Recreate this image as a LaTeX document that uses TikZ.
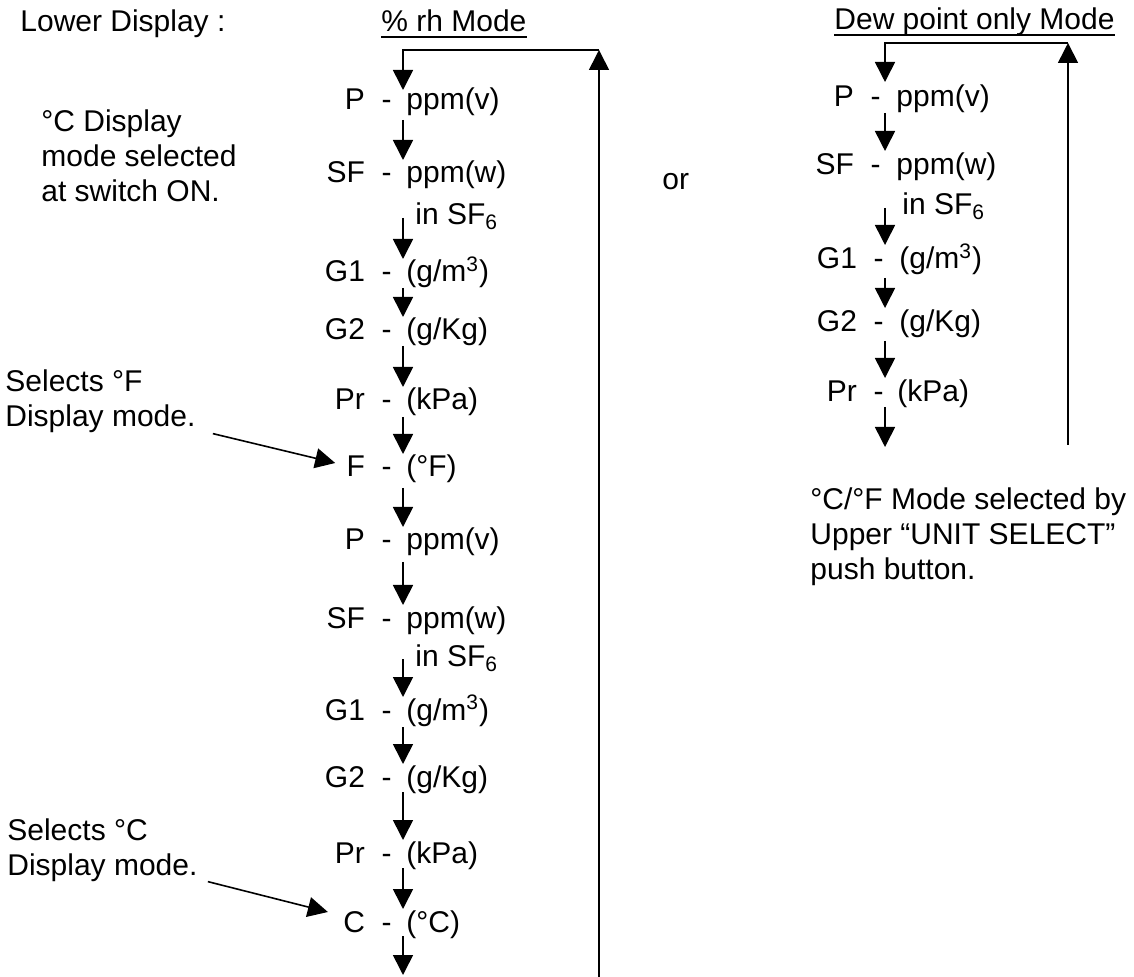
\documentclass[tikz,border=0pt]{standalone}
\usepackage{fontspec}
\setmainfont{Liberation Sans}
\usetikzlibrary{arrows.meta,calc}
\tikzset{>={Triangle[length=10pt,width=10pt]}}
\tikzset{
  lbl/.style={inner sep=0pt, anchor=base west},
  code/.style={inner sep=0pt, anchor=base east},
  note/.style={inner sep=0pt, anchor=base west, align=left},
  flow/.style={->, line width=0.8pt},
}

\begin{document}
\begin{tikzpicture}[x=0.5pt, y=-0.5pt, font=\fontsize{15}{17.5}\selectfont]
  \useasboundingbox (0,0) rectangle (1134,977);

  % headings
  \node[lbl] (lower) at (20,32) {Lower Display :};
  \node[lbl] (rhmode) at (381,32) {\% rh Mode};
  \node[lbl] (dewmode) at (834,30) {Dew point only Mode};
  \draw[line width=1pt] ($(rhmode.base west)+(0,5)$) -- ($(rhmode.base east)+(0,5)$);
  \draw[line width=1pt] ($(dewmode.base west)+(0,5)$) -- ($(dewmode.base east)+(0,5)$);
  \node[lbl] (or) at (662,190) {or};

  % notes (base = last line)
  \node[note] (atswitch) at (41,202) {°C Display\\mode selected\\at switch ON.};
  \node[note] (selF) at (5,427) {Selects °F\\Display mode.};
  \node[note] (selC) at (7,875) {Selects °C\\Display mode.};
  \node[note] (unitsel) at (810,580) {°C/°F Mode selected by\\Upper “UNIT SELECT”\\push button.};

  % % rh column
  \coordinate (lcol) at (403,0);
  \node[code] (lP1)  at (392,110) {P\ \ -};   \node[lbl] at (406,110) {ppm(v)};
  \node[code] (lSF1) at (392,183) {SF\ \ -};  \node[lbl] at (406,183) {ppm(w)};
  \node[lbl] (lin1) at (415,225) {in SF\textsubscript{6}};
  \node[code] (lG11) at (392,282) {G1\ \ -};  \node[lbl] at (406,282) {(g/m\textsuperscript{3})};
  \node[code] (lG21) at (392,340) {G2\ \ -};  \node[lbl] at (406,340) {(g/Kg)};
  \node[code] (lPr1) at (392,410) {Pr\ \ -};  \node[lbl] at (406,410) {(kPa)};
  \node[code] (lF)   at (392,477) {F\ \ -};   \node[lbl] at (406,477) {(°F)};
  \node[code] (lP2)  at (392,550) {P\ \ -};   \node[lbl] at (406,550) {ppm(v)};
  \node[code] (lSF2) at (392,628) {SF\ \ -};  \node[lbl] at (406,628) {ppm(w)};
  \node[lbl] (lin2) at (415,667) {in SF\textsubscript{6}};
  \node[code] (lG12) at (392,720) {G1\ \ -};  \node[lbl] at (406,720) {(g/m\textsuperscript{3})};
  \node[code] (lG22) at (392,787) {G2\ \ -};  \node[lbl] at (406,787) {(g/Kg)};
  \node[code] (lPr2) at (392,863) {Pr\ \ -};  \node[lbl] at (406,863) {(kPa)};
  \node[code] (lC)   at (392,932) {C\ \ -};   \node[lbl] at (406,932) {(°C)};
  \coordinate (lend) at (403,975);

  \foreach \a/\b/\s in {lP1/lSF1/10, lSF1/lG11/35, lG11/lG21/6, lG21/lPr1/6,
      lPr1/lF/7, lF/lP2/11, lP2/lSF2/12, lSF2/lG12/31, lG12/lG22/7,
      lG22/lPr2/5, lPr2/lC/5}
    \draw[flow] ($(\a.base -| lcol)+(0,\s)$) -- ($(\b.base -| lcol)+(0,-23)$);
  \draw[flow] ($(lC.base -| lcol)+(0,4)$) -- (lend);

  % return loop
  \coordinate (ltop) at (599,50);
  \coordinate (lbot) at (599,977);
  \draw[flow] (lbot) -- (ltop);
  \draw[flow] (ltop) -- (lcol |- ltop) -- ($(lP1.base -| lcol)+(0,-20)$);

  % unit select pointers
  \draw[flow] ($(selF.south east)+(17,0)$) -- ($(lF.base west)+(-11,-14)$);
  \draw[flow] ($(selC.south east)+(10,0)$) -- ($(lC.base west)+(-15,-20)$);

  % dew point column
  \coordinate (rcol) at (885,0);
  \node[code] (rP)  at (881,107) {P\ \ -};   \node[lbl] at (896,107) {ppm(v)};
  \node[code] (rSF) at (881,175) {SF\ \ -};  \node[lbl] at (896,175) {ppm(w)};
  \node[lbl] (rin) at (902,215) {in SF\textsubscript{6}};
  \node[code] (rG1) at (884,269) {G1\ \ -};  \node[lbl] at (899,269) {(g/m\textsuperscript{3})};
  \node[code] (rG2) at (884,332) {G2\ \ -};  \node[lbl] at (899,332) {(g/Kg)};
  \node[code] (rPr) at (884,402) {Pr\ \ -};  \node[lbl] at (897,402) {(kPa)};
  \coordinate (rend) at (885,447);

  \foreach \a/\b/\s in {rP/rSF/6, rSF/rG1/33, rG1/rG2/9, rG2/rPr/9}
    \draw[flow] ($(\a.base -| rcol)+(0,\s)$) -- ($(\b.base -| rcol)+(0,-24)$);
  \draw[flow] ($(rPr.base -| rcol)+(0,5)$) -- (rend);

  \coordinate (rtop) at (1068,43);
  \coordinate (rbot) at (1068,445);
  \draw[flow] (rbot) -- (rtop);
  \draw[flow] (rtop) -- (rcol |- rtop) -- ($(rP.base -| rcol)+(0,-25)$);
\end{tikzpicture}
\end{document}
